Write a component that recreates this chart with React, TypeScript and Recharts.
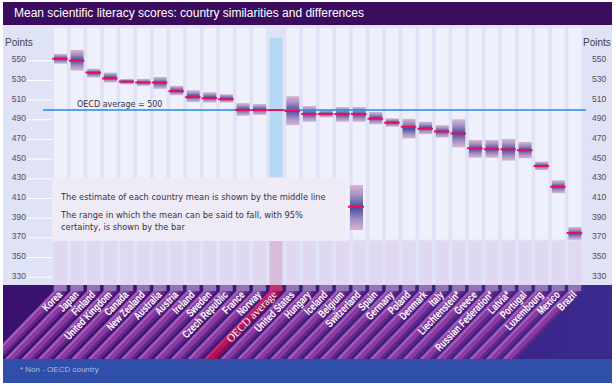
import React from 'react';
import {
  ComposedChart,
  Bar,
  Scatter,
  XAxis,
  YAxis,
  ReferenceLine,
  ReferenceArea,
} from 'recharts';

// ---------------- data ----------------
const countries = [
  'Korea', 'Japan', 'Finland', 'United Kingdom', 'Canada', 'New Zealand', 'Australia',
  'Austria', 'Ireland', 'Sweden', 'Czech Republic', 'France', 'Norway', 'OECD average',
  'United States', 'Hungary', 'Iceland', 'Belgium', 'Switzerland', 'Spain', 'Germany',
  'Poland', 'Denmark', 'Italy', 'Liechtenstein*', 'Greece', 'Russian Federation*',
  'Latvia*', 'Portugal', 'Luxembourg', 'Mexico', 'Brazil',
];
const means = [
  552, 550, 538, 532, 529, 528, 528, 519, 513, 512, 511, 500, 500, 500, 499, 496, 496,
  496, 496, 491, 487, 483, 481, 478, 476, 461, 460, 460, 459, 443, 422, 375,
];
const lows = [
  547, 540, 533, 528, 526, 524.5, 521.5, 515, 508, 507.5, 507.5, 494, 495, null, 484.5,
  488, 492.5, 488, 488, 485.5, 483, 471, 475.5, 472, 462, 451.5, 451.5, 448.5, 451, 439,
  415.5, 368,
];
const highs = [
  557, 561, 542, 538, 531.5, 531.5, 533.5, 524.5, 520, 518, 516, 507, 506, null, 514,
  504, 500, 503, 503, 498, 491.5, 491, 488, 484.5, 490.5, 469.5, 469.5, 470.5, 467.5,
  447.5, 428.5, 381,
];
const yTicks = [330, 350, 370, 390, 410, 430, 450, 470, 490, 510, 530, 550];
const oecdAverage = 500;
const oecdName = 'OECD average';

const data = countries.map((c, i) => ({
  country: c,
  mean: means[i],
  range: lows[i] == null ? null : [lows[i], highs[i]],
}));

// ---------------- layout ----------------
const W = 616;
const H = 386;
const BAND_TOP = 285;
const BAND_BOTTOM = 359;
const Y_DOMAIN: [number, number] = [322.1, 583.3];
const SANS = "'Liberation Sans', Arial, sans-serif";
const VERD = "'DejaVu Sans', Verdana, sans-serif";
const ANGLE = 46;

const BoxShape = (props: any) => {
  const { x, y, width, height } = props;
  if (height == null || isNaN(height)) return null;
  return <rect x={x} y={y} width={width} height={height} fill="url(#boxGrad)" />;
};

const MeanShape = (props: any) => {
  const { cx, cy } = props;
  return <line x1={cx - 8} x2={cx + 7.5} y1={cy} y2={cy} stroke="#e8105c" strokeWidth={2} />;
};

const LeftTick = (props: any) => {
  const { y, payload } = props;
  return (
    <g>
      <line x1={27} x2={52} y1={y} y2={y} stroke="#ffffff" strokeWidth={1} />
      <text x={26} y={y + 1.5} textAnchor="end" fontFamily={SANS} fontSize={8.5} fill="#505060">
        {payload.value}
      </text>
    </g>
  );
};

const RightTick = (props: any) => {
  const { y, payload } = props;
  return (
    <text x={592} y={y + 1.5} textAnchor="start" fontFamily={SANS} fontSize={8.5} fill="#505060">
      {payload.value}
    </text>
  );
};

const XTick = (props: any) => {
  const { x, payload } = props;
  const cx = x;
  const isOecd = payload.value === oecdName;
  const hw = 6.5;
  const tabBottom = BAND_TOP + 6;
  const dx = (BAND_BOTTOM - tabBottom) / Math.tan((ANGLE * Math.PI) / 180);
  const light = isOecd ? '#c8286c' : '#a659b6';
  const mid = isOecd ? '#b3125e' : '#8a3ba3';
  const dark = isOecd ? '#930c4e' : '#662689';
  const para = (a: number, b: number, fill: string) => (
    <polygon
      points={`${cx + a},${tabBottom} ${cx + b},${tabBottom} ${cx + b - dx},${BAND_BOTTOM} ${cx + a - dx},${BAND_BOTTOM}`}
      fill={fill}
    />
  );
  return (
    <g clipPath="url(#bandClip)">
      <rect x={cx - hw} y={BAND_TOP} width={hw * 2} height={tabBottom - BAND_TOP} fill={isOecd ? '#c0306e' : '#9274b6'} />
      {para(-hw, -2.5, light)}
      {para(-2.5, 3, mid)}
      {para(3, hw, dark)}
      {isOecd ? (
        <text
          transform={`translate(${cx + 1.5},${295}) rotate(-${ANGLE})`}
          textAnchor="end"
          fill="#ffffff"
          fontFamily="'Liberation Serif', 'Times New Roman', serif"
          fontSize={11}
        >
          {payload.value}
        </text>
      ) : (
        <text
          transform={`translate(${cx + 2.5},${295.5}) rotate(-${ANGLE}) scale(0.74,1)`}
          textAnchor="end"
          fill="#ffffff"
          fontFamily={SANS}
          fontWeight="bold"
          fontSize={11}
        >
          {payload.value}
        </text>
      )}
    </g>
  );
};

const NarrowArea = (props: any) => {
  const { x, y, width, height, fill } = props;
  const w = 13;
  return <rect x={x + width / 2 - w / 2} y={y} width={w} height={height} fill={fill} />;
};

const OecdLabel = (props: any) => {
  const { viewBox } = props;
  return (
    <text x={viewBox.x + 34} y={viewBox.y - 3} fontFamily={VERD} fontSize={8} fill="#333344">
      OECD average = {oecdAverage}
    </text>
  );
};

export default function App() {
  return (
    <div style={{ position: 'absolute', left: 0, top: 0, width: W, height: H, background: '#ffffff', overflow: 'hidden' }}>
      {/* background layer */}
      <svg width={W} height={H} style={{ position: 'absolute', left: 0, top: 0 }}>
        <defs>
          <linearGradient id="bandBg" x1="0" y1="0" x2="1" y2="0">
            <stop offset="0" stopColor="#3a106e" />
            <stop offset="1" stopColor="#3b2a8e" />
          </linearGradient>
        </defs>
        <rect x={3} y={2} width={609} height={23} fill="#3b0b5e" />
        <rect x={3} y={25} width={609} height={BAND_TOP - 25} fill="#e0e2f6" />
        <rect x={3} y={BAND_TOP} width={609} height={BAND_BOTTOM - BAND_TOP} fill="url(#bandBg)" />
        <rect x={3} y={BAND_BOTTOM} width={609} height={H - 3 - BAND_BOTTOM} fill="#2f4fa8" />
      </svg>

      {/* chart layer */}
      <div style={{ position: 'absolute', left: 0, top: 0 }}>
        <ComposedChart width={W} height={H} data={data} margin={{ top: 28, right: 0, bottom: 27, left: 0 }}>
          <defs>
            <linearGradient id="boxGrad" x1="0" y1="0" x2="0" y2="1">
              <stop offset="0" stopColor="#d8b6d0" />
              <stop offset="0.22" stopColor="#a692c4" />
              <stop offset="0.5" stopColor="#4a4c9e" />
              <stop offset="0.78" stopColor="#a692c4" />
              <stop offset="1" stopColor="#d8b6d0" />
            </linearGradient>
            <linearGradient id="colGrad" gradientUnits="userSpaceOnUse" x1="0" y1="28" x2="0" y2="285">
              <stop offset="0" stopColor="#eef0fb" />
              <stop offset="0.82" stopColor="#eef0fb" />
              <stop offset="0.83" stopColor="#e0d8f0" />
              <stop offset="1" stopColor="#e0d8f0" />
            </linearGradient>
            <clipPath id="bandClip">
              <rect x={3} y={BAND_TOP} width={609} height={BAND_BOTTOM - BAND_TOP} />
            </clipPath>
          </defs>
          <XAxis
            dataKey="country"
            interval={0}
            tick={(p: any) => <XTick {...p} />}
            tickLine={false}
            axisLine={false}
            height={BAND_BOTTOM - BAND_TOP}
            padding={{ left: 9, right: 3 }}
          />
          <YAxis
            yAxisId={0}
            domain={Y_DOMAIN}
            ticks={yTicks}
            interval={0}
            allowDataOverflow
            width={43}
            tick={(p: any) => <LeftTick {...p} />}
            tickLine={false}
            axisLine={false}
          />
          <YAxis
            yAxisId="r"
            orientation="right"
            domain={Y_DOMAIN}
            ticks={yTicks}
            interval={0}
            allowDataOverflow
            width={30}
            tick={(p: any) => <RightTick {...p} />}
            tickLine={false}
            axisLine={false}
          />
          <Bar
            dataKey="range"
            barSize={13}
            isAnimationActive={false}
            shape={BoxShape}
            background={{ fill: 'url(#colGrad)' }}
          />
          <ReferenceArea x1={oecdName} x2={oecdName} y1={431.9} y2={573.2} fill="#b6d9f3" fillOpacity={1} shape={NarrowArea} ifOverflow="visible" />
          <ReferenceArea x1={oecdName} x2={oecdName} y1={Y_DOMAIN[0]} y2={366.8} fill="#d9bcd9" fillOpacity={1} shape={NarrowArea} ifOverflow="visible" />
          <ReferenceLine y={oecdAverage} stroke="#1a8fe0" strokeWidth={1.5} label={(p: any) => <OecdLabel {...p} />} />
          <Scatter dataKey="mean" isAnimationActive={false} shape={MeanShape} />
        </ComposedChart>
      </div>

      {/* overlay layer */}
      <svg width={W} height={H} style={{ position: 'absolute', left: 0, top: 0, pointerEvents: 'none' }}>
        <defs>
          <linearGradient id="legendGrad" x1="0" y1="0" x2="0" y2="1">
            <stop offset="0" stopColor="#d8b6d0" />
            <stop offset="0.22" stopColor="#a692c4" />
            <stop offset="0.5" stopColor="#4a4c9e" />
            <stop offset="0.78" stopColor="#a692c4" />
            <stop offset="1" stopColor="#d8b6d0" />
          </linearGradient>
        </defs>
        <text x={14} y={16.7} fontFamily={SANS} fontSize={12} fill="#ffffff">
          Mean scientific literacy scores: country similarities and differences
        </text>
        <text x={5} y={46} fontFamily={SANS} fontSize={10} fill="#404050">Points</text>
        <text x={583} y={46} fontFamily={SANS} fontSize={10} fill="#404050">Points</text>
        <rect x={52} y={178} width={294} height={63} fill="#efebf6" />
        <text x={61} y={199.7} fontFamily={VERD} fontSize={8.3} fill="#333344">
          The estimate of each country mean is shown by the middle line
        </text>
        <text x={61} y={217.7} fontFamily={VERD} fontSize={8.3} fill="#333344">
          The range in which the mean can be said to fall, with 95%
        </text>
        <text x={61} y={230} fontFamily={VERD} fontSize={8.3} fill="#333344">
          certainty, is shown by the bar
        </text>
        <rect x={350} y={185} width={13} height={45} fill="url(#legendGrad)" />
        <line x1={348} x2={364} y1={206.7} y2={206.7} stroke="#e8105c" strokeWidth={2} />
        <text x={20} y={372} fontFamily={SANS} fontSize={8} fill="#a8b9e4">* Non - OECD country</text>
      </svg>
    </div>
  );
}
